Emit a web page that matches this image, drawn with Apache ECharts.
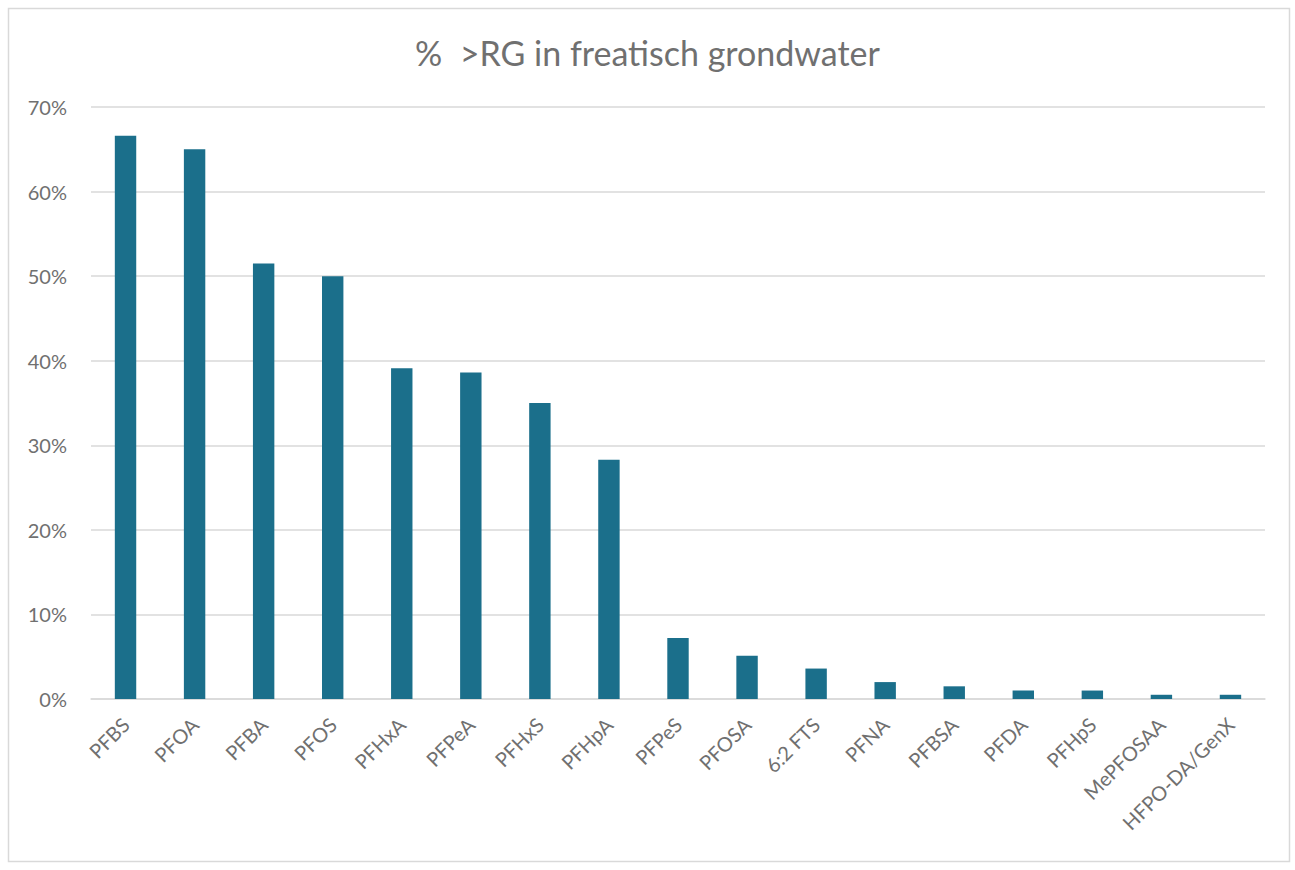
<!DOCTYPE html>
<html>
<head>
<meta charset="utf-8">
<script src="https://cdn.jsdelivr.net/npm/echarts@6/dist/echarts.min.js"></script>
<style>
  html, body { margin: 0; padding: 0; background: #fff; }
  #chart { width: 1295px; height: 870px; }
</style>
</head>
<body>
<div id="chart"></div>
<script>
(function() {
  var titleText = '%  >RG in freatisch grondwater';
  var compounds = ['PFBS', 'PFOA', 'PFBA', 'PFOS', 'PFHxA', 'PFPeA', 'PFHxS', 'PFHpA', 'PFPeS',
    'PFOSA', '6:2 FTS', 'PFNA', 'PFBSA', 'PFDA', 'PFHpS', 'MePFOSAA', 'HFPO-DA/GenX'];
  var pctAboveRG = [66.6, 65.0, 51.5, 50.0, 39.1, 38.6, 35.0, 28.3, 7.2,
    5.1, 3.6, 2.0, 1.5, 1.0, 1.0, 0.5, 0.5];

  var ink = '#707070';
  var rule = '#d9d9d9';
  var barColor = '#1b6f8b';
  var font = 'Lato, "Open Sans", sans-serif';

  var chart = echarts.init(document.getElementById('chart'), null, { renderer: 'svg' });

  chart.setOption({
    animation: false,
    graphic: [{
      type: 'rect',
      shape: { x: 8.5, y: 8.5, width: 1281, height: 853 },
      style: { fill: 'none', stroke: rule, lineWidth: 1.5 },
      silent: true
    }],
    title: {
      text: titleText,
      left: 'center',
      top: 30,
      textStyle: { color: ink, fontSize: 34, fontWeight: 'normal', fontFamily: font }
    },
    grid: { left: 91, right: 30, top: 107, bottom: 171 },
    xAxis: {
      type: 'category',
      data: compounds,
      axisLine: { lineStyle: { color: rule, width: 1.5 } },
      axisTick: { show: false },
      axisLabel: {
        rotate: 45,
        color: ink,
        fontSize: 20,
        fontFamily: font,
        margin: 22,
        interval: 0
      }
    },
    yAxis: {
      type: 'value',
      min: 0,
      max: 70,
      interval: 10,
      axisLine: { show: false },
      axisTick: { show: false },
      splitLine: { lineStyle: { color: rule, width: 1.5 } },
      axisLabel: {
        formatter: '{value}%',
        color: ink,
        fontSize: 20,
        fontFamily: font,
        margin: 24
      }
    },
    series: [{
      type: 'bar',
      data: pctAboveRG,
      barWidth: '31%',
      itemStyle: { color: barColor }
    }]
  });

  window.addEventListener('resize', function() { chart.resize(); });
})();
</script>
</body>
</html>
